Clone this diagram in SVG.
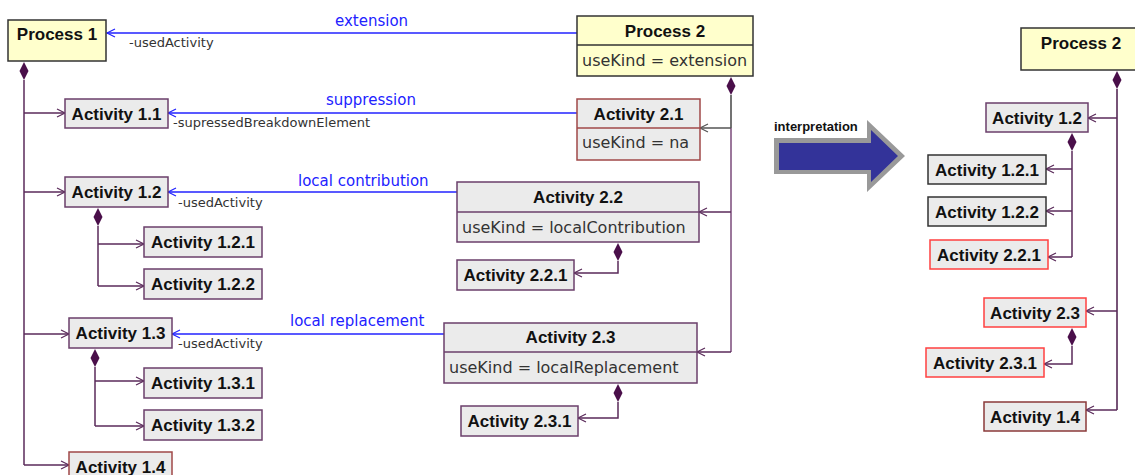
<svg xmlns="http://www.w3.org/2000/svg" width="1135" height="475" viewBox="0 0 1135 475">
<style>
.proc{fill:#ffffcc;stroke:#333;stroke-width:1.5}
.act{fill:#ebebeb;stroke:#6b3f6b;stroke-width:1.5}
.actb{fill:#ebebeb;stroke:#a04848;stroke-width:1.5}
.actd{fill:#ebebeb;stroke:#333;stroke-width:1.5}
.actr{fill:#ebebeb;stroke:#ff4040;stroke-width:1.5}
.sep{stroke:#6b3f6b;stroke-width:1.5}
.name{font-family:"Liberation Sans",Arial,sans-serif;font-weight:bold;font-size:17px;fill:#111;text-anchor:middle}
.attr{font-family:"DejaVu Sans",sans-serif;font-size:16px;fill:#333}
.lbl{font-family:"DejaVu Sans",sans-serif;font-size:15px;fill:#2222ff}
.role{font-family:"DejaVu Sans",sans-serif;font-size:13px;fill:#333}
.comp{fill:none;stroke:#5a2a5a;stroke-width:1.5;marker-end:url(#oa)}
.compg{fill:none;stroke:#555;stroke-width:1.5;marker-end:url(#og)}
.use{fill:none;stroke:#2222ff;stroke-width:1.5;marker-end:url(#ob)}
.dia{fill:#4a0f4a}
</style>
<defs>
<marker id="oa" markerWidth="12" markerHeight="12" refX="10" refY="6" orient="auto" markerUnits="userSpaceOnUse">
<path d="M2,2 L10,6 L2,10" fill="none" stroke="#5a2a5a" stroke-width="1.2"/>
</marker>
<marker id="og" markerWidth="12" markerHeight="12" refX="10" refY="6" orient="auto" markerUnits="userSpaceOnUse">
<path d="M2,2 L10,6 L2,10" fill="none" stroke="#555" stroke-width="1.2"/>
</marker>
<marker id="ob" markerWidth="12" markerHeight="12" refX="10" refY="6" orient="auto" markerUnits="userSpaceOnUse">
<path d="M2,2 L10,6 L2,10" fill="none" stroke="#2222ff" stroke-width="1.2"/>
</marker>
<path id="dia" d="M0,0 L4.5,9 L0,18 L-4.5,9 Z"/>
</defs>

<g id="connectors">
<path class="use" d="M577,33 H107"/>
<path class="use" d="M577,113 H168"/>
<path class="use" d="M457,192 H168"/>
<path class="use" d="M444,334 H172"/>
<path d="M24,80 V465" fill="none" stroke="#5a2a5a" stroke-width="1.5"/>
<path class="comp" d="M24,113 H65"/>
<path class="comp" d="M24,192 H65"/>
<path class="comp" d="M24,334 H69"/>
<path class="comp" d="M24,465 H69"/>
<use href="#dia" class="dia" x="24" y="62"/>
<path d="M98,226 V286" fill="none" stroke="#5a2a5a" stroke-width="1.5"/>
<path class="comp" d="M98,244 H144"/>
<path class="comp" d="M98,286 H144"/>
<use href="#dia" class="dia" x="98" y="208"/>
<path d="M95,367 V426" fill="none" stroke="#5a2a5a" stroke-width="1.5"/>
<path class="comp" d="M95,381 H144"/>
<path class="comp" d="M95,426 H144"/>
<use href="#dia" class="dia" x="95" y="349"/>
<path d="M731,95 V128" fill="none" stroke="#444" stroke-width="1.5"/>
<path d="M731,128 V352" fill="none" stroke="#7a4a7a" stroke-width="1.5"/>
<path class="compg" d="M731,128 H700"/>
<path class="comp" d="M731,212 H699"/>
<path class="comp" d="M731,352 H697"/>
<use href="#dia" class="dia" x="731" y="77"/>
<path class="comp" d="M618,261 V273 H574"/>
<use href="#dia" class="dia" x="618" y="243"/>
<path class="comp" d="M618,402 V418 H578"/>
<use href="#dia" class="dia" x="618" y="384"/>
<path d="M1117,89 V410" fill="none" stroke="#4a1a4a" stroke-width="1.5"/>
<path class="comp" d="M1117,118 H1088"/>
<path class="comp" d="M1117,311 H1086"/>
<path class="comp" d="M1117,410 H1086"/>
<use href="#dia" class="dia" x="1117" y="71"/>
<path d="M1072,151 V257" fill="none" stroke="#5a2a5a" stroke-width="1.5"/>
<path class="comp" d="M1072,169 H1046"/>
<path class="comp" d="M1072,211 H1046"/>
<path class="comp" d="M1072,257 H1048"/>
<use href="#dia" class="dia" x="1072" y="133"/>
<path class="comp" d="M1072,346 V364 H1044"/>
<use href="#dia" class="dia" x="1072" y="328"/>
<text class="lbl" x="335" y="26">extension</text>
<text class="lbl" x="326" y="105">suppression</text>
<text class="lbl" x="298" y="186">local contribution</text>
<text class="lbl" x="290" y="326">local replacement</text>
<text class="role" x="129" y="47">-usedActivity</text>
<text class="role" x="173" y="127">-supressedBreakdownElement</text>
<text class="role" x="178" y="207">-usedActivity</text>
<text class="role" x="178" y="348">-usedActivity</text>
</g>

<g id="process1">
<rect class="proc" x="8" y="20" width="98" height="41"/>
<text class="name" x="57" y="40">Process 1</text>
</g>
<g id="activity1_1">
<rect class="act" x="65" y="99" width="103" height="29"/>
<text class="name" x="116.5" y="120">Activity 1.1</text>
</g>
<g id="activity1_2">
<rect class="act" x="65" y="177" width="103" height="30"/>
<text class="name" x="116.5" y="198">Activity 1.2</text>
</g>
<g id="activity1_2_1">
<rect class="act" x="144" y="227" width="118" height="30"/>
<text class="name" x="203" y="248">Activity 1.2.1</text>
</g>
<g id="activity1_2_2">
<rect class="act" x="144" y="269" width="118" height="30"/>
<text class="name" x="203" y="290">Activity 1.2.2</text>
</g>
<g id="activity1_3">
<rect class="act" x="69" y="318" width="103" height="30"/>
<text class="name" x="120.5" y="339">Activity 1.3</text>
</g>
<g id="activity1_3_1">
<rect class="act" x="144" y="368" width="118" height="30"/>
<text class="name" x="203" y="389">Activity 1.3.1</text>
</g>
<g id="activity1_3_2">
<rect class="act" x="144" y="410" width="118" height="30"/>
<text class="name" x="203" y="431">Activity 1.3.2</text>
</g>
<g id="activity1_4">
<rect class="actb" x="69" y="452" width="103" height="30"/>
<text class="name" x="120.5" y="473">Activity 1.4</text>
</g>

<g id="process2">
<rect class="proc" x="577" y="16" width="176" height="60"/>
<line x1="577" y1="45" x2="753" y2="45" stroke="#333" stroke-width="1.5"/>
<text class="name" x="665" y="37">Process 2</text>
<text class="attr" x="582" y="66">useKind = extension</text>
</g>
<g id="activity2_1">
<rect class="actb" x="577" y="99" width="123" height="61"/>
<line x1="577" y1="128" x2="700" y2="128" stroke="#a04848" stroke-width="1.5"/>
<text class="name" x="638.5" y="120">Activity 2.1</text>
<text class="attr" x="582" y="148">useKind = na</text>
</g>
<g id="activity2_2">
<rect class="act" x="457" y="182" width="242" height="60"/>
<line class="sep" x1="457" y1="212" x2="699" y2="212"/>
<text class="name" x="578" y="203">Activity 2.2</text>
<text class="attr" x="462" y="233">useKind = localContribution</text>
</g>
<g id="activity2_2_1">
<rect class="act" x="457" y="260" width="117" height="30"/>
<text class="name" x="515.5" y="281">Activity 2.2.1</text>
</g>
<g id="activity2_3">
<rect class="act" x="444" y="323" width="253" height="60"/>
<line class="sep" x1="444" y1="352" x2="697" y2="352"/>
<text class="name" x="570.5" y="343">Activity 2.3</text>
<text class="attr" x="449" y="373">useKind = localReplacement</text>
</g>
<g id="activity2_3_1">
<rect class="act" x="461" y="406" width="117" height="30"/>
<text class="name" x="519.5" y="427">Activity 2.3.1</text>
</g>

<g id="interpretation">
<polygon points="774,138 867,138 867,120 905,156 867,192 867,174 774,174" fill="#999"/>
<polygon points="779,143 871,143 871,130 898,156 871,182 871,170 779,170" fill="#333399"/>
<text x="774" y="131" font-family="Liberation Sans, Arial, sans-serif" font-weight="bold" font-size="13" fill="#111">interpretation</text>
</g>

<g id="r_process2">
<rect class="proc" x="1021" y="28" width="125" height="42"/>
<text class="name" x="1081" y="49">Process 2</text>
</g>
<g id="r_activity1_2">
<rect class="act" x="986" y="103" width="102" height="29"/>
<text class="name" x="1037" y="124">Activity 1.2</text>
</g>
<g id="r_activity1_2_1">
<rect class="actd" x="928" y="155" width="118" height="29"/>
<text class="name" x="987" y="176">Activity 1.2.1</text>
</g>
<g id="r_activity1_2_2">
<rect class="actd" x="928" y="197" width="118" height="29"/>
<text class="name" x="987" y="218">Activity 1.2.2</text>
</g>
<g id="r_activity2_2_1">
<rect class="actr" x="930" y="240" width="118" height="29"/>
<text class="name" x="989" y="261">Activity 2.2.1</text>
</g>
<g id="r_activity2_3">
<rect class="actr" x="984" y="298" width="102" height="29"/>
<text class="name" x="1035" y="319">Activity 2.3</text>
</g>
<g id="r_activity2_3_1">
<rect class="actr" x="926" y="348" width="118" height="29"/>
<text class="name" x="985" y="369">Activity 2.3.1</text>
</g>
<g id="r_activity1_4">
<rect class="actb" x="984" y="402" width="102" height="29" style="stroke:#8b3a3a"/>
<text class="name" x="1035" y="423">Activity 1.4</text>
</g>
</svg>
